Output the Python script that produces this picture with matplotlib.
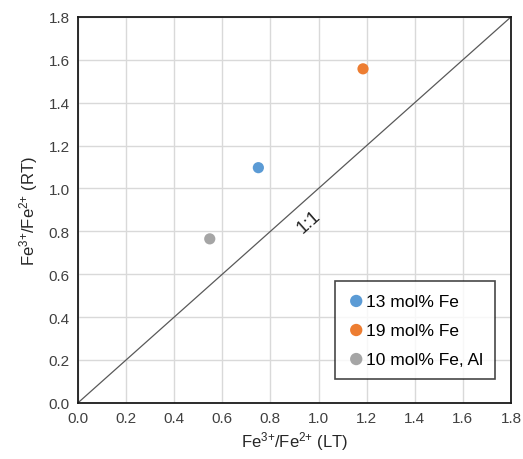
import matplotlib.pyplot as plt

plt.rcParams['font.family'] = ['Liberation Sans', 'DejaVu Sans']
plt.rcParams['mathtext.fontset'] = 'custom'
plt.rcParams['mathtext.rm'] = 'Liberation Sans'
plt.rcParams['mathtext.default'] = 'regular'

labels = ["13 mol% Fe", "19 mol% Fe", "10 mol% Fe, Al"]
lt_ratio = [0.75, 1.185, 0.548]
rt_ratio = [1.097, 1.558, 0.765]
colors = ["#5b9bd5", "#ed7d31", "#a5a5a5"]
ticks = [0.0, 0.2, 0.4, 0.6, 0.8, 1.0, 1.2, 1.4, 1.6, 1.8]

fig = plt.figure(figsize=(5.23, 4.60), dpi=100)
ax = fig.add_axes([0.149, 0.122, 0.828, 0.839])

ax.plot([0, 1.8], [0, 1.8], color="#595959", lw=0.9, zorder=2)
for x, y, c, lab in zip(lt_ratio, rt_ratio, colors, labels):
    ax.scatter(x, y, s=65, color=c, label=lab, zorder=3, edgecolors="none")

ax.text(0.96, 0.845, "1:1", rotation=41.7, ha="center", va="center",
        fontsize=13, color="#222222")

ax.set_xlim(0, 1.8)
ax.set_ylim(0, 1.8)
ax.set_xticks(ticks)
ax.set_yticks(ticks)
ax.set_xticklabels([f"{t:.1f}" for t in ticks])
ax.set_yticklabels([f"{t:.1f}" for t in ticks])
ax.tick_params(length=0, labelsize=11, colors="#404040", pad=6)
ax.grid(True, color="#d9d9d9", lw=1.0, zorder=0)
ax.set_axisbelow(True)
for s in ax.spines.values():
    s.set_linewidth(1.3)
    s.set_color("#1a1a1a")

ax.set_xlabel("Fe$^{3{+}}$/Fe$^{2{+}}$ (LT)", fontsize=12, color="#262626", labelpad=3)
ax.set_ylabel("Fe$^{3{+}}$/Fe$^{2{+}}$ (RT)", fontsize=12, color="#262626", labelpad=6)

leg = ax.legend(loc="lower right", bbox_to_anchor=(0.983, 0.04), fontsize=12.5,
                frameon=True, fancybox=False, edgecolor="#1a1a1a",
                handletextpad=0.05, handlelength=1.0, labelspacing=0.8,
                borderpad=0.7, markerscale=1.1)
leg.get_frame().set_linewidth(1.2)

fig.savefig("out.png", dpi=100)
